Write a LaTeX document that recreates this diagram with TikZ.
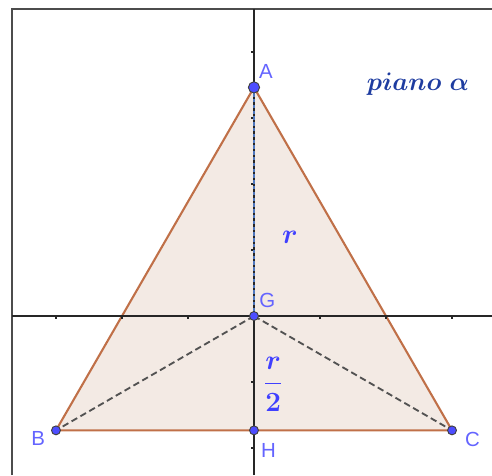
\documentclass[tikz,border=0pt]{standalone}
\usepackage{fontspec}
\usepackage{amsmath}
\usepackage{bm}
\setsansfont{Liberation Sans}
\definecolor{edgebrown}{RGB}{192,112,72}
\definecolor{fillpink}{RGB}{243,234,228}
\definecolor{ptblue}{RGB}{77,77,255}
\definecolor{lblblue}{RGB}{100,100,255}
\definecolor{mathblue}{RGB}{64,64,255}
\definecolor{titleblue}{RGB}{30,60,160}
\definecolor{dashblue}{RGB}{80,120,190}
\begin{document}
\begin{tikzpicture}[x=1cm,y=1cm,
  axisline/.style={draw=black!85,line width=0.5pt},
  frameline/.style={draw=black!70,line width=0.7pt},
  tickmark/.style={draw=black!85,line width=0.5pt},
  pt/.style={circle,fill=ptblue,draw=black!75,line width=0.4pt,inner sep=0pt,minimum size=1.35mm},
  bigpt/.style={circle,fill=ptblue,draw=black!75,line width=0.4pt,inner sep=0pt,minimum size=1.7mm},
  lbl/.style={text=lblblue,font=\sffamily\fontsize{8.8}{10}\selectfont,inner sep=0pt},
  mlbl/.style={text=mathblue,font=\fontsize{11.5}{13}\selectfont,inner sep=0pt},
  tri/.style={draw=edgebrown,line width=0.9pt,fill=fillpink},
  gdash/.style={draw=black!68,line width=0.8pt,dash pattern=on 2.8pt off 1.6pt},
  bdash/.style={draw=dashblue,line width=0.5pt,dash pattern=on 1.5pt off 1pt}]
\useasboundingbox (-3.848,-2.409) rectangle (3.606,4.788);
% triangle fill and edges
\coordinate (a) at (0,3.4641);
\coordinate (b) at (-3,-1.7321);
\coordinate (c) at (3,-1.7321);
\coordinate (g) at (0,0);
\coordinate (h) at (0,-1.7321);
\path[tri] (a) -- (b) -- (c) -- cycle;
% frame
\coordinate (fl) at (-3.667,-2.409);
\coordinate (ftl) at (-3.667,4.652);
\coordinate (ftr) at (3.606,4.652);
\draw[frameline] (fl) -- (ftl) -- (ftr);
% axes
\coordinate (xl) at (-3.667,0);
\coordinate (xr) at (3.606,0);
\coordinate (yb) at (0,-2.409);
\coordinate (yt) at (0,4.652);
\draw[axisline] (xl) -- (xr);
\draw[axisline] (yb) -- (yt);
\foreach \i in {-3,-2,-1,1,2,3} \draw[tickmark] (\i,0) -- (\i,-0.05);
\foreach \j in {-2,-1,1,2,3,4} \draw[tickmark] (0,\j) -- (-0.05,\j);
% dashed segments
\draw[bdash] (a) -- (g);
\draw[gdash] (g) -- (b);
\draw[gdash] (g) -- (c);
% points
\node[bigpt] (A) at (a) {};
\node[pt] (B) at (b) {};
\node[pt] (C) at (c) {};
\node[pt] (G) at (g) {};
\node[pt] (H) at (h) {};
% labels
\node[lbl] (lA) at (0.18,3.70) {A};
\node[lbl] (lG) at (0.2,0.24) {G};
\node[lbl] (lB) at (-3.27,-1.86) {B};
\node[lbl] (lC) at (3.31,-1.87) {C};
\node[lbl] (lH) at (0.22,-2.03) {H};
\node[mlbl] (lr) at (0.545,1.20) {$\bm{r}$};
\node[mlbl] (lr2) at (0.29,-1.03) {$\bm{\dfrac{r}{2}}$};
\node[text=titleblue,font=\fontsize{11}{13}\selectfont,inner sep=0pt,anchor=base] (title) at (2.485,3.42) {$\bm{piano\ \alpha}$};
\end{tikzpicture}
\end{document}
